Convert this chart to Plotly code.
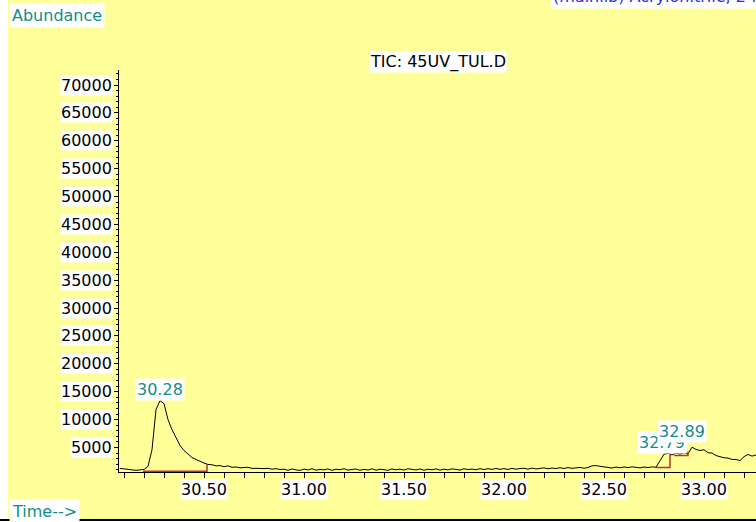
import plotly.graph_objects as go

# --- TIC chromatogram data -------------------------------------------------
scan_start = 30.08          # min
scan_step = 0.02            # min between plotted scans
abundance = [
    # 30.08 - 30.26
    1250, 1150, 1000, 950, 900, 980, 1050, 1600, 4600, 11800,
    # 30.28 - 30.48
    13400, 12850, 10000, 8200, 6800, 5350, 4450, 3750, 3200, 2850, 2480,
    # 30.50 - 30.86
    2200, 1950, 1900, 1700, 1750, 1550, 1700, 1450, 1500, 1350,
    1400, 1450, 1250, 1300, 1250, 1200, 1270, 1100, 1200, 1050,
    # 30.88 - 31.06
    1100, 900, 1150, 980, 880, 1120, 960, 1180, 920, 1070,
    # 31.08 - 31.26
    980, 1150, 890, 1100, 1000, 1190, 930, 1060, 1130, 900,
    # 31.28 - 31.46
    1080, 950, 1170, 920, 1100, 1010, 890, 1150, 990, 1110,
    # 31.48 - 31.66
    950, 1180, 1010, 970, 1150, 910, 1100, 1000, 1160, 940,
    # 31.68 - 31.86
    1110, 980, 1170, 1030, 950, 1180, 1040, 1130, 1000, 1200,
    # 31.88 - 32.06
    1040, 1190, 1070, 1230, 1080, 1210, 1050, 1250, 1100, 1220,
    # 32.08 - 32.26
    1270, 1110, 1300, 1150, 1280, 1340, 1170, 1310, 1220, 1370,
    # 32.28 - 32.46
    1230, 1390, 1260, 1370, 1420, 1270, 1400, 1700, 1750, 1620,
    # 32.48 - 32.72
    1500, 1380, 1320, 1480, 1360, 1510, 1390, 1530, 1410, 1340,
    1500, 1390, 1520,
    # 32.74 - 33.26
    1450, 2600, 3800, 3950, 3650, 4000, 3800, 4050, 3850, 5050,
    4650, 4450, 4600, 4050, 4000, 3550, 3350, 3150, 3100, 2850,
    2850, 2650, 3350, 3750, 3450, 3650, 3300,
]
times = [round(scan_start + scan_step * i, 2) for i in range(len(abundance))]

# integrated peaks: label, apex time, apex abundance
peak_labels = ["30.28", "32.79", "32.89"]
peak_times = [30.28, 32.79, 32.89]
peak_heights = [13400, 3900, 5000]

# integration baselines: (start time, end time, baseline, signal at end)
integ_start = [30.195, 32.755, 32.850]
integ_end = [30.515, 32.830, 32.920]
integ_base = [750, 1400, 3550]
integ_top = [1950, 3750, 4280]

# axis tick labels
x_ticks = [30.50, 31.00, 31.50, 32.00, 32.50, 33.00]
y_ticks = list(range(5000, 70001, 5000))

YELLOW = "#FFFF99"
TEAL = "#138c8c"
RED = "#b5372a"
FONT = "DejaVu Sans"

W, H = 756, 522
ML, MR, MT, MB = 119, 0, 70, 50
PW, PH = W - ML - MR, H - MT - MB


def px(xp):
    return (xp - ML) / PW


def py(yp):
    return (H - MB - yp) / PH


fig = go.Figure()

fig.add_trace(go.Scatter(
    x=times, y=abundance, mode="lines",
    line=dict(color="black", width=1), hoverinfo="skip", showlegend=False,
))

# integration marks
for s, e, b, t in zip(integ_start, integ_end, integ_base, integ_top):
    fig.add_trace(go.Scatter(
        x=[s, e, e], y=[b, b, t], mode="lines",
        line=dict(color=RED, width=1.5), hoverinfo="skip", showlegend=False,
    ))

annotations = []

# peak retention-time labels
shifts = [0, 0, 4]
for lab, t, h, sh in zip(peak_labels, peak_times, peak_heights, shifts):
    annotations.append(dict(
        x=t, y=h, xref="x", yref="y", text=lab, showarrow=False,
        yanchor="bottom", yshift=sh, bgcolor="white", borderpad=1,
        font=dict(family=FONT, size=16, color=TEAL),
    ))

# x tick labels
for v in x_ticks:
    annotations.append(dict(
        x=v, y=0, xref="x", yref="paper", text=f"{v:.2f}", showarrow=False,
        yanchor="middle", yshift=-17, bgcolor="white", borderpad=0,
        font=dict(family=FONT, size=16, color="black"),
    ))

# y tick labels
for v in y_ticks:
    annotations.append(dict(
        x=0, y=v, xref="paper", yref="y", text=str(v), showarrow=False,
        xanchor="right", xshift=-6, bgcolor="white", borderpad=0,
        font=dict(family=FONT, size=16, color="black"),
    ))

# title and axis captions
annotations += [
    dict(x=0.5, y=1, xref="paper", yref="paper", text="TIC: 45UV_TUL.D",
         showarrow=False, yanchor="middle", yshift=8, bgcolor="white",
         borderpad=0, font=dict(family=FONT, size=16, color="black")),
    dict(x=px(9), y=py(15), xref="paper", yref="paper", text="Abundance",
         showarrow=False, xanchor="left", yanchor="middle", bgcolor="white",
         borderpad=2, font=dict(family=FONT, size=16, color=TEAL)),
    dict(x=px(9), y=py(511), xref="paper", yref="paper", text="Time-->",
         showarrow=False, xanchor="left", yanchor="middle", bgcolor="white",
         borderpad=2, font=dict(family=FONT, size=16, color=TEAL)),
    dict(x=px(550), y=py(9), xref="paper", yref="paper",
         text="(mainlib) Acrylonitrile, 2-methyl-", showarrow=False,
         xanchor="left", yanchor="bottom", bgcolor="white", borderpad=2,
         font=dict(family=FONT, size=16, color="#2b2bf0")),
]

shapes = [
    # white strip on the left edge
    dict(type="rect", xref="paper", yref="paper", x0=px(-5), x1=px(8),
         y0=py(H + 5), y1=py(-5), fillcolor="white", line_width=0, layer="below"),
    # white band under the bottom rule
    dict(type="rect", xref="paper", yref="paper", x0=px(-5), x1=px(W + 5),
         y0=py(H + 5), y1=py(520), fillcolor="white", line_width=0, layer="below"),
    # bottom rule
    dict(type="line", xref="paper", yref="paper", x0=px(0), x1=px(W),
         y0=py(520), y1=py(520), line=dict(color="black", width=2)),
]

fig.update_layout(
    width=W, height=H,
    margin=dict(l=ML, r=MR, t=MT, b=MB, pad=0),
    paper_bgcolor=YELLOW, plot_bgcolor=YELLOW,
    annotations=annotations, shapes=shapes,
    showlegend=False,
    xaxis=dict(
        range=[30.075, 33.26], showgrid=False, zeroline=False,
        showline=True, linecolor="black", linewidth=1,
        ticks="outside", ticklen=5, tickcolor="black", tickwidth=1,
        tick0=30.5, dtick=0.5, showticklabels=False,
        minor=dict(ticks="outside", ticklen=5, tickcolor="black",
                   tickwidth=1, dtick=0.1, tick0=30.0, showgrid=False),
    ),
    yaxis=dict(
        range=[600, 72690], showgrid=False, zeroline=False,
        showline=True, linecolor="black", linewidth=1,
        ticks="outside", ticklen=4, tickcolor="black", tickwidth=1,
        tick0=0, dtick=5000, showticklabels=False,
        minor=dict(ticks="outside", ticklen=2, tickcolor="black",
                   tickwidth=1, dtick=1000, showgrid=False),
    ),
)

fig.write_html("out.html")
